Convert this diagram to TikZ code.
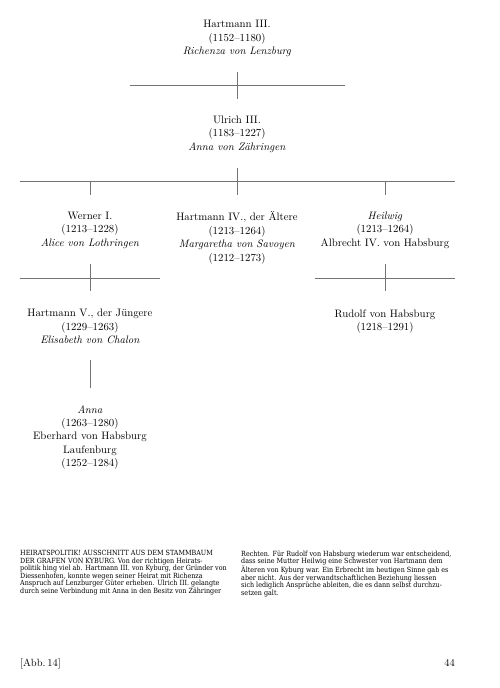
\documentclass[tikz,border=0pt]{standalone}
\usepackage{fontspec}
\newfontfamily\capfont{DejaVu Serif Condensed}
\begin{document}
\begin{tikzpicture}[x=1pt,y=-1pt,
  person/.style={anchor=north, align=center, inner sep=0pt, font=\fontsize{10.8}{13.4}\selectfont},
  bar/.style={draw=black!55, line width=0.7pt},
  caption/.style={anchor=north west, inner sep=0pt, align=left, font=\capfont\fontsize{7.1}{7.5}\selectfont},
  foot/.style={inner sep=0pt, font=\fontsize{10.5}{12}\selectfont}]
\useasboundingbox (0,0) rectangle (500,688);

% persons (north = first baseline minus ascent)
\node[person] (h3) at (237,20.2) {Hartmann III.\\(1152–1180)\\\textit{Richenza von Lenzburg}};
\node[person] (u3) at (237,115.8) {Ulrich III.\\(1183–1227)\\\textit{Anna von Zähringen}};
\node[person] (w1) at (90,211.8) {Werner I.\\(1213–1228)\\\textit{Alice von Lothringen}};
\node[person] (h4) at (237,211.8) {Hartmann IV., der Ältere\\(1213–1264)\\\textit{Margaretha von Savoyen}\\(1212–1273)};
\node[person] (hw) at (385,211.8) {\textit{Heilwig}\\(1213–1264)\\Albrecht IV. von Habsburg};
\node[person] (h5) at (90,309.2) {Hartmann V., der Jüngere\\(1229–1263)\\\textit{Elisabeth von Chalon}};
\node[person] (rh) at (385,309.2) {Rudolf von Habsburg\\(1218–1291)};
\node[person] (an) at (90,405.2) {\textit{Anna}\\(1263–1280)\\Eberhard von Habsburg\\Laufenburg\\(1252–1284)};

% junction coordinates
\coordinate (b1l) at (130,85);   \coordinate (b1r) at (345,85);
\coordinate (v1t) at (237,72);   \coordinate (v1b) at (237,99);
\coordinate (b2l) at (20,181.5); \coordinate (b2r) at (455,181.5);
\coordinate (v2t) at (237,168);  \coordinate (v2b) at (237,195);
\coordinate (v2la) at (90,181.5); \coordinate (v2lb) at (90,195);
\coordinate (v2ra) at (385,181.5); \coordinate (v2rb) at (385,195);
\coordinate (b3l) at (20,278);   \coordinate (b3m) at (160,278);
\coordinate (v3t) at (90,264);   \coordinate (v3b) at (90,291);
\coordinate (b4l) at (315,278);  \coordinate (b4r) at (455,278);
\coordinate (v4t) at (385,264);  \coordinate (v4b) at (385,291);
\coordinate (v5t) at (90,360);   \coordinate (v5b) at (90,388);

\draw[bar] (b1l) -- (b1r); \draw[bar] (v1t) -- (v1b);
\draw[bar] (b2l) -- (b2r); \draw[bar] (v2t) -- (v2b);
\draw[bar] (v2la) -- (v2lb); \draw[bar] (v2ra) -- (v2rb);
\draw[bar] (b3l) -- (b3m); \draw[bar] (v3t) -- (v3b);
\draw[bar] (b4l) -- (b4r); \draw[bar] (v4t) -- (v4b);
\draw[bar] (v5t) -- (v5b);

% caption
\node[caption] (capl) at (20,550.5) {HEIRATSPOLITIK! AUSSCHNITT AUS DEM STAMMBAUM\\
DER GRAFEN VON KYBURG. Von der richtigen Heirats-\\
politik hing viel ab. Hartmann III. von Kyburg, der Gründer von\\
Diessenhofen, konnte wegen seiner Heirat mit Richenza\\
Anspruch auf Lenzburger Güter erheben. Ulrich III. gelangte\\
durch seine Verbindung mit Anna in den Besitz von Zähringer};
\node[caption] (capr) at (241,550.5) {Rechten. Für Rudolf von Habsburg wiederum war entscheidend,\\
dass seine Mutter Heilwig eine Schwester von Hartmann dem\\
Älteren von Kyburg war. Ein Erbrecht im heutigen Sinne gab es\\
aber nicht. Aus der verwandtschaftlichen Beziehung liessen\\
sich lediglich Ansprüche ableiten, die es dann selbst durchzu-\\
setzen galt.};

% footer
\node[foot, anchor=base west] (abb) at (20,666.7) {[Abb.\,14]};
\node[foot, anchor=base east] (pg) at (455,666.7) {44};
\end{tikzpicture}
\end{document}
